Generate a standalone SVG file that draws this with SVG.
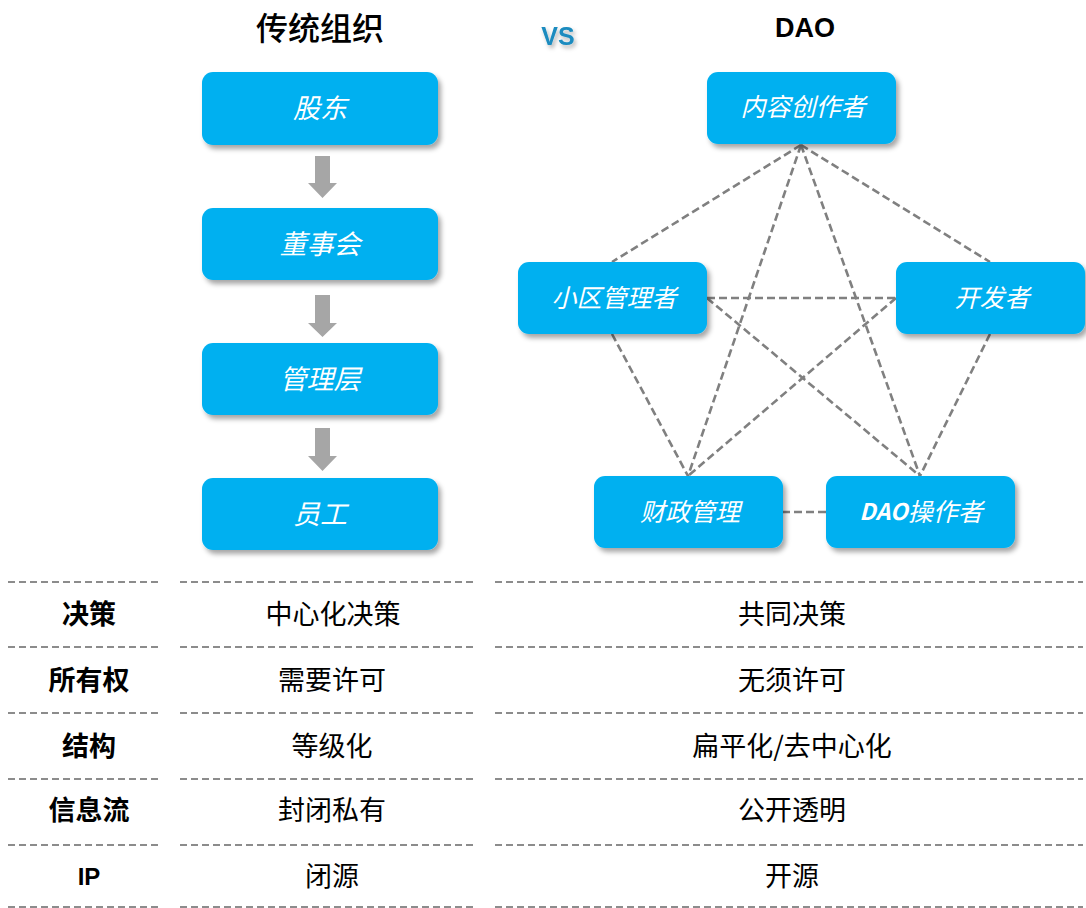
<svg xmlns="http://www.w3.org/2000/svg" width="1086" height="908" viewBox="0 0 1086 908">
<defs>
<filter id="sh" x="-10%" y="-20%" width="130%" height="150%">
<feDropShadow dx="3" dy="4" stdDeviation="2.5" flood-color="#000" flood-opacity="0.35"/>
</filter>
<filter id="tsh" x="-20%" y="-20%" width="160%" height="180%">
<feDropShadow dx="2" dy="3" stdDeviation="2" flood-color="#000" flood-opacity="0.3"/>
</filter>
<style>
.box{fill:#00b0f0;filter:url(#sh)}
.nt{fill:#fff;font-family:"Noto Sans CJK SC","Noto Sans",sans-serif;font-style:italic;text-anchor:middle;dominant-baseline:central}
.net{stroke:#808080;stroke-width:2.6;stroke-dasharray:8 4;fill:none}
.tl{stroke:#8c8c8c;stroke-width:2;stroke-dasharray:7 4;fill:none}
.arr{fill:#a6a6a6}
.tx{fill:#000;font-family:"Noto Sans CJK SC","Noto Sans",sans-serif;font-size:27px;text-anchor:middle;dominant-baseline:central}
.hd{font-weight:bold;font-size:27px}
</style>
</defs>
<rect width="1086" height="908" fill="#fff"/>

<g id="titles">
<text x="320" y="26" class="tx" style="font-size:32px;font-weight:500">传统组织</text>
<text x="558" y="36" fill="#1a8bbf" font-family="Liberation Sans, Arial, sans-serif" font-weight="bold" font-size="25" text-anchor="middle" dominant-baseline="central" filter="url(#tsh)">VS</text>
<text x="805" y="28" fill="#000" font-family="Liberation Sans, Arial, sans-serif" font-weight="bold" font-size="27" text-anchor="middle" dominant-baseline="central">DAO</text>
</g>

<g id="connectors">
<line class="net" x1="801" y1="145" x2="612" y2="262"/>
<line class="net" x1="801" y1="145" x2="990" y2="262"/>
<line class="net" x1="801" y1="145" x2="688" y2="476"/>
<line class="net" x1="801" y1="145" x2="920" y2="476"/>
<line class="net" x1="707" y1="298" x2="896" y2="298"/>
<line class="net" x1="707" y1="298" x2="920" y2="476"/>
<line class="net" x1="896" y1="298" x2="688" y2="476"/>
<line class="net" x1="612" y1="334" x2="688" y2="476"/>
<line class="net" x1="990" y1="334" x2="920" y2="476"/>
<line class="net" x1="782" y1="512" x2="826" y2="512"/>
<path class="arr" d="M315 156H330V183H337L322.5 198L308 183H315Z"/>
<path class="arr" d="M315 295H330V323H337L322.5 337L308 323H315Z"/>
<path class="arr" d="M315 428H330V456H337L322.5 471L308 456H315Z"/>
</g>

<g id="n-gudong"><rect class="box" x="202" y="72" width="236" height="73" rx="11"/><text class="nt" x="320" y="106" font-size="27">股东</text></g>
<g id="n-dongshihui"><rect class="box" x="202" y="208" width="236" height="72" rx="11"/><text class="nt" x="320" y="242" font-size="27">董事会</text></g>
<g id="n-guanliceng"><rect class="box" x="202" y="343" width="236" height="72" rx="11"/><text class="nt" x="320" y="377" font-size="27">管理层</text></g>
<g id="n-yuangong"><rect class="box" x="202" y="478" width="236" height="72" rx="11"/><text class="nt" x="320" y="512" font-size="27">员工</text></g>

<g id="n-neirong"><rect class="box" x="707" y="72" width="189" height="72" rx="11"/><text class="nt" x="803" y="105" font-size="25">内容创作者</text></g>
<g id="n-xiaoqu"><rect class="box" x="518" y="262" width="189" height="72" rx="11"/><text class="nt" x="614" y="296" font-size="25">小区管理者</text></g>
<g id="n-kaifa"><rect class="box" x="896" y="262" width="189" height="72" rx="11"/><text class="nt" x="992" y="296" font-size="25">开发者</text></g>
<g id="n-caizheng"><rect class="box" x="594" y="476" width="189" height="72" rx="11"/><text class="nt" x="690" y="510" font-size="25">财政管理</text></g>
<g id="n-dao"><rect class="box" x="826" y="476" width="189" height="72" rx="11"/><text class="nt" x="921" y="510" font-size="25"><tspan font-weight="bold" font-size="23">DAO</tspan>操作者</text></g>

<g id="table-lines">
<path class="tl" d="M8 582H160M180 582H475M495 582H1083"/>
<path class="tl" d="M8 647H160M180 647H475M495 647H1083"/>
<path class="tl" d="M8 713H160M180 713H475M495 713H1083"/>
<path class="tl" d="M8 779H160M180 779H475M495 779H1083"/>
<path class="tl" d="M8 845H160M180 845H475M495 845H1083"/>
<path class="tl" d="M8 907H160M180 907H475M495 907H1083"/>
</g>

<g id="table-text">
<text class="tx hd" x="89" y="612">决策</text>
<text class="tx" x="333" y="612">中心化决策</text>
<text class="tx" x="792" y="612">共同决策</text>
<text class="tx hd" x="89" y="678">所有权</text>
<text class="tx" x="332" y="678">需要许可</text>
<text class="tx" x="792" y="678">无须许可</text>
<text class="tx hd" x="89" y="744">结构</text>
<text class="tx" x="332" y="744">等级化</text>
<text class="tx" x="792" y="744">扁平化/去中心化</text>
<text class="tx hd" x="89" y="808">信息流</text>
<text class="tx" x="332" y="808">封闭私有</text>
<text class="tx" x="792" y="808">公开透明</text>
<text class="tx hd" x="89" y="876" style="font-family:'Liberation Sans',Arial,sans-serif;font-size:24px">IP</text>
<text class="tx" x="332" y="874">闭源</text>
<text class="tx" x="792" y="874">开源</text>
</g>
</svg>
